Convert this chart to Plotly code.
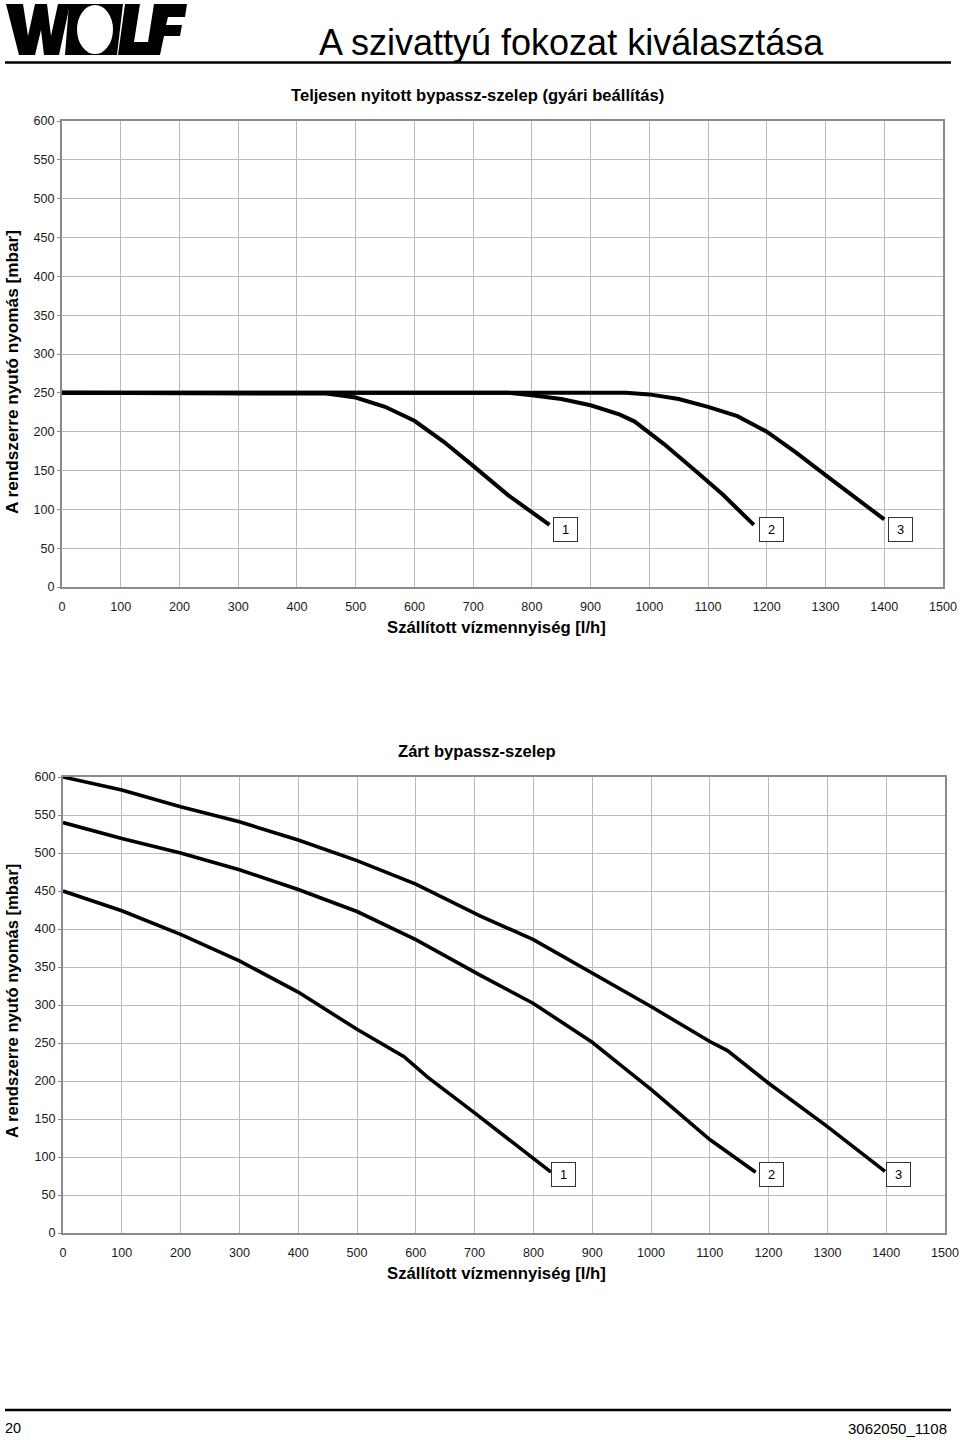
import plotly.graph_objects as go

W, H = 960, 1440

# ---------------- data ----------------
# Top chart: fully open bypass valve (factory setting)
open_x1 = [0, 100, 200, 300, 400, 450, 500, 550, 600, 650, 700, 760, 830]
open_y1 = [250, 250, 250, 250, 250, 249, 244, 232, 214, 187, 156, 118, 80]
open_x2 = [0, 200, 400, 600, 760, 800, 850, 900, 950, 975, 1025, 1075, 1125, 1178]
open_y2 = [250, 250, 250, 250, 250, 247, 242, 234, 222, 213, 184, 152, 119, 80]
open_x3 = [0, 200, 400, 600, 800, 960, 1000, 1050, 1100, 1150, 1200, 1250, 1300, 1350, 1400]
open_y3 = [250, 250, 250, 250, 250, 250, 248, 242, 232, 220, 200, 173, 144, 115, 87]

# Bottom chart: closed bypass valve
closed_x1 = [0, 100, 200, 300, 400, 500, 580, 620, 700, 760, 830]
closed_y1 = [450, 424, 393, 358, 317, 268, 232, 205, 158, 122, 80]
closed_x2 = [0, 100, 200, 300, 400, 500, 600, 710, 800, 900, 950, 1000, 1100, 1178]
closed_y2 = [540, 519, 500, 478, 452, 423, 386, 339, 302, 251, 220, 189, 123, 80]
closed_x3 = [0, 100, 200, 300, 400, 500, 600, 710, 800, 900, 1000, 1100, 1130, 1200, 1300, 1398]
closed_y3 = [600, 583, 561, 541, 517, 490, 459, 417, 386, 342, 298, 252, 240, 197, 140, 81]

stage_labels = ["1", "2", "3"]
open_label_x = [858, 1208, 1427]
open_label_y = [74, 74, 74]
closed_label_x = [851, 1205, 1421]
closed_label_y = [77, 77, 77]

x_ticks = list(range(0, 1501, 100))
y_ticks = list(range(0, 601, 50))

title_main = "A szivattyú fokozat kiválasztása"
title_open = "Teljesen nyitott bypassz-szelep (gyári beállítás)"
title_closed = "Zárt bypassz-szelep"
x_title = "Szállított vízmennyiség [l/h]"
y_title = "A rendszerre nyutó nyomás [mbar]"
page_no = "20"
doc_no = "3062050_1108"

FONT = "Liberation Sans, Arial, sans-serif"


def px(x):
    return x / W


def py(y):
    return 1 - y / H


fig = go.Figure()

series_open = [(open_x1, open_y1), (open_x2, open_y2), (open_x3, open_y3)]
series_closed = [(closed_x1, closed_y1), (closed_x2, closed_y2), (closed_x3, closed_y3)]

for xs, ys in series_open:
    fig.add_trace(go.Scatter(x=xs, y=ys, mode="lines", xaxis="x", yaxis="y",
                             line=dict(color="black", width=4), hoverinfo="skip"))
for xs, ys in series_closed:
    fig.add_trace(go.Scatter(x=xs, y=ys, mode="lines", xaxis="x2", yaxis="y2",
                             line=dict(color="black", width=3.6), hoverinfo="skip"))

grid = "#b9b9b9"
axcol = "#8a8a8a"


def xaxis(domain, anchor):
    return dict(domain=domain, anchor=anchor, range=[0, 1500], tickvals=x_ticks,
                automargin=False, ticklabeloverflow="allow",
                showgrid=True, gridcolor=grid, gridwidth=1, zeroline=False,
                showline=True, linecolor=axcol, linewidth=2, mirror=True,
                ticks="", ticklabelstandoff=7,
                tickfont=dict(family=FONT, size=12.6, color="#1a1a1a"), fixedrange=True)


def yaxis(domain, anchor):
    return dict(domain=domain, anchor=anchor, range=[0, 600], tickvals=y_ticks,
                automargin=False, ticklabeloverflow="allow",
                showgrid=True, gridcolor=grid, gridwidth=1, zeroline=False,
                showline=True, linecolor=axcol, linewidth=2, mirror=True,
                ticks="outside", ticklen=3, tickcolor=axcol, ticklabelstandoff=0,
                tickfont=dict(family=FONT, size=12.6, color="#1a1a1a"), fixedrange=True)


annotations = []
shapes = []

# header/footer texts
annotations.append(dict(text=title_main, x=px(571), y=py(42), xref="paper", yref="paper",
                        showarrow=False, xanchor="center", yanchor="middle",
                        font=dict(family=FONT, size=36, color="black")))
annotations.append(dict(text="<b>%s</b>" % title_open, x=px(477), y=py(96), xref="paper", yref="paper",
                        showarrow=False, xanchor="center", yanchor="middle",
                        font=dict(family=FONT, size=16.6, color="black")))
annotations.append(dict(text="<b>%s</b>" % title_closed, x=px(477), y=py(751), xref="paper", yref="paper",
                        showarrow=False, xanchor="center", yanchor="middle",
                        font=dict(family=FONT, size=16.6, color="black")))
for yc in (627, 1273):
    annotations.append(dict(text="<b>%s</b>" % x_title, x=px(496), y=py(yc), xref="paper", yref="paper",
                            showarrow=False, xanchor="center", yanchor="middle",
                            font=dict(family=FONT, size=16.7, color="black")))
for yc, fs in ((372, 17.2), (1001, 16.6)):
    annotations.append(dict(text="<b>%s</b>" % y_title, x=px(12), y=py(yc), xref="paper", yref="paper",
                            showarrow=False, xanchor="center", yanchor="middle", textangle=-90,
                            font=dict(family=FONT, size=fs, color="black")))
annotations.append(dict(text=page_no, x=px(3), y=py(1428), xref="paper", yref="paper",
                        showarrow=False, xanchor="left", yanchor="middle",
                        font=dict(family=FONT, size=14.5, color="black")))
annotations.append(dict(text=doc_no, x=px(949), y=py(1428), xref="paper", yref="paper",
                        showarrow=False, xanchor="right", yanchor="middle",
                        font=dict(family=FONT, size=15, color="black")))

# stage labels
for t, lx, ly in zip(stage_labels, open_label_x, open_label_y):
    annotations.append(dict(text=t, x=lx, y=ly, xref="x", yref="y", showarrow=False,
                            bgcolor="white", bordercolor="#333", borderwidth=1, borderpad=2,
                            width=19, height=19, font=dict(family=FONT, size=12.8, color="black")))
for t, lx, ly in zip(stage_labels, closed_label_x, closed_label_y):
    annotations.append(dict(text=t, x=lx, y=ly, xref="x2", yref="y2", showarrow=False,
                            bgcolor="white", bordercolor="#333", borderwidth=1, borderpad=2,
                            width=19, height=19, font=dict(family=FONT, size=12.8, color="black")))

# header and footer rules
for yl in (62.5, 1410):
    shapes.append(dict(type="line", xref="paper", yref="paper", x0=px(5), x1=px(951),
                       y0=py(yl), y1=py(yl), line=dict(color="black", width=2.5)))


# WOLF logo drawn with shapes
def path(points):
    return "M " + " L ".join("%.5f,%.5f" % (px(a), py(b)) for a, b in points) + " Z"


logo_W = [(6, 4), (23, 4), (28, 36), (35, 4), (47, 4), (51, 36), (58, 4), (70, 4),
          (59, 55), (44, 55), (41, 30), (35, 55), (19, 55)]
logo_O = [(69, 4), (123, 4), (117, 55), (65, 55)]
logo_L = [(125, 4), (140, 4), (134, 42), (152, 42), (150, 55), (118, 55)]
logo_F = [(154, 4), (187, 4), (185, 17), (168, 17), (166, 25), (182, 25), (180, 36),
          (164, 36), (160, 55), (146, 55)]
for poly in (logo_W, logo_O, logo_L, logo_F):
    shapes.append(dict(type="path", xref="paper", yref="paper", path=path(poly),
                       fillcolor="black", line=dict(width=0)))
shapes.append(dict(type="circle", xref="paper", yref="paper", x0=px(77), x1=px(113),
                   y0=py(54), y1=py(5), fillcolor="white", line=dict(width=0)))

fig.update_layout(
    width=W, height=H, margin=dict(l=0, r=0, t=0, b=0, pad=0),
    paper_bgcolor="white", plot_bgcolor="white", showlegend=False,
    xaxis=xaxis([px(62), px(943)], "y"),
    yaxis=yaxis([py(587), py(121)], "x"),
    xaxis2=xaxis([px(63), px(945)], "y2"),
    yaxis2=yaxis([py(1233), py(777)], "x2"),
    annotations=annotations, shapes=shapes,
)

post = (
    "document.documentElement.style.margin='0';"
    "document.documentElement.style.overflow='hidden';"
    "document.body.style.margin='0';"
    "document.body.style.overflow='hidden';"
    "var gd=document.getElementById('{plot_id}');"
    "gd.style.position='fixed';gd.style.left='0px';gd.style.top='0px';"
)
fig.write_html("out.html", config={"displayModeBar": False}, post_script=post)
